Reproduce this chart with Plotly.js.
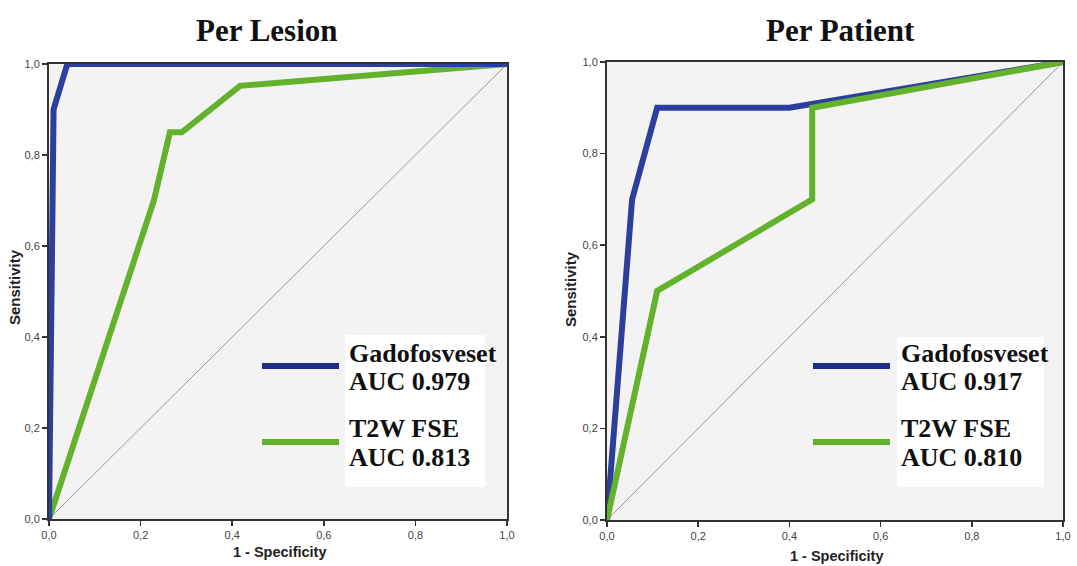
<!DOCTYPE html>
<html>
<head>
<meta charset="utf-8">
<script src="https://cdn.plot.ly/plotly-3.0.1.min.js"></script>
<style>html,body{margin:0;padding:0;background:#fff;}#chart{width:1077px;height:566px;}</style>
</head>
<body>
<div id="chart"></div>
<script>
// ---- data ----
const panelTitles = ["Per Lesion", "Per Patient"];
const seriesNames = ["Gadofosveset", "T2W FSE"];
const lesionAUC = ["AUC 0.979", "AUC 0.813"];
const patientAUC = ["AUC 0.917", "AUC 0.810"];
const lesionGadoFPR = [0, 0.01, 0.04, 1];
const lesionGadoTPR = [0, 0.90, 1.0, 1.0];
const lesionT2FPR = [0, 0.229, 0.264, 0.29, 0.417, 1];
const lesionT2TPR = [0, 0.70, 0.85, 0.85, 0.952, 1];
const patientGadoFPR = [0, 0.055, 0.11, 0.40, 1];
const patientGadoTPR = [0, 0.70, 0.90, 0.90, 1];
const patientT2FPR = [0, 0.11, 0.45, 0.45, 1];
const patientT2TPR = [0, 0.50, 0.70, 0.90, 1];
const refLine = [0, 1];
const tickVals = [0, 0.2, 0.4, 0.6, 0.8, 1.0];
const tickText = ["0,0", "0,2", "0,4", "0,6", "0,8", "1,0"];

// ---- style ----
const W = 1077, H = 566;
const BLUE = "#2d3f9c", GREEN = "#62b22b", LEGBLUE = "#1f2d8a";
const px = x => x / W, py = y => 1 - y / H;

function trace(x, y, color, width, xa, ya) {
  return {x: x, y: y, mode: "lines", type: "scatter", line: {color: color, width: width},
          xaxis: xa, yaxis: ya, hoverinfo: "skip", showlegend: false};
}

const data = [
  trace(refLine, refLine, "#9a9a9a", 1, "x", "y"),
  trace(lesionT2FPR, lesionT2TPR, GREEN, 6, "x", "y"),
  trace(lesionGadoFPR, lesionGadoTPR, BLUE, 6, "x", "y"),
  trace(refLine, refLine, "#9a9a9a", 1, "x2", "y2"),
  trace(patientGadoFPR, patientGadoTPR, BLUE, 6, "x2", "y2"),
  trace(patientT2FPR, patientT2TPR, GREEN, 6, "x2", "y2")
];

function axis(domain, anchor) {
  return {domain: domain, anchor: anchor, range: [0, 1], tickvals: tickVals, ticktext: tickText,
          ticks: "outside", ticklen: 5, tickwidth: 1.5, tickcolor: "#333",
          showline: true, linecolor: "#333", linewidth: 2, mirror: true,
          showgrid: false, zeroline: false, fixedrange: true,
          tickfont: {family: "Liberation Sans, Arial, sans-serif", size: 11, color: "#444"}};
}

const panels = [
  {x0: 49, x1: 507, y0: 64, y1: 519, aucs: lesionAUC, lineX: 262, textX: 347, box: [345, 335, 485, 487]},
  {x0: 607, x1: 1063, y0: 62, y1: 520, aucs: patientAUC, lineX: 813, textX: 899, box: [897, 337, 1044, 487]}
];

const layout = {
  width: W, height: H, margin: {l: 0, r: 0, t: 0, b: 0},
  paper_bgcolor: "#fff", plot_bgcolor: "#f3f3f3",
  showlegend: false,
  xaxis: axis([px(49), px(507)], "y"),
  yaxis: axis([1 - 519 / H, 1 - 64 / H], "x"),
  xaxis2: axis([px(607), px(1063)], "y2"),
  yaxis2: axis([1 - 520 / H, 1 - 62 / H], "x2"),
  shapes: [], annotations: []
};

const serif = "Liberation Serif, Times New Roman, serif";
const sans = "Liberation Sans, Arial, sans-serif";

panels.forEach((p, i) => {
  const cx = (p.x0 + p.x1) / 2;
  // title
  layout.annotations.push({text: "<b>" + panelTitles[i] + "</b>", xref: "paper", yref: "paper",
    x: px(i === 0 ? 267 : 840), y: py(30), xanchor: "center", yanchor: "middle", showarrow: false,
    font: {family: serif, size: 31, color: "#111"}});
  // axis titles
  layout.annotations.push({text: "<b>1 - Specificity</b>", xref: "paper", yref: "paper",
    x: px(cx + 1), y: py(i === 0 ? 552 : 556), xanchor: "center", yanchor: "middle", showarrow: false,
    font: {family: sans, size: 14.5, color: "#222"}});
  layout.annotations.push({text: "<b>Sensitivity</b>", xref: "paper", yref: "paper", textangle: -90,
    x: px(i === 0 ? 14 : 570), y: py(i === 0 ? 287 : 289), xanchor: "center", yanchor: "middle", showarrow: false,
    font: {family: sans, size: 15, color: "#222"}});
  // legend white box
  layout.shapes.push({type: "rect", xref: "paper", yref: "paper", layer: "above",
    x0: px(p.box[0]), x1: px(p.box[2]), y0: py(p.box[3]), y1: py(p.box[1]),
    fillcolor: "#ffffff", line: {width: 0}});
  // legend swatches
  [[LEGBLUE, 366], [GREEN, 442]].forEach(s => {
    layout.shapes.push({type: "line", xref: "paper", yref: "paper", layer: "above",
      x0: px(p.lineX), x1: px(p.lineX + 77), y0: py(s[1]), y1: py(s[1]),
      line: {color: s[0], width: 6}});
  });
  // legend text
  const lines = [[seriesNames[0], 353], [p.aucs[0], 381], [seriesNames[1], 428], [p.aucs[1], 457]];
  lines.forEach(l => {
    layout.annotations.push({text: "<b>" + l[0] + "</b>", xref: "paper", yref: "paper",
      x: px(p.textX), y: py(l[1]), xanchor: "left", yanchor: "middle", showarrow: false,
      font: {family: serif, size: 26, color: "#111"}});
  });
});

Plotly.newPlot("chart", data, layout, {displayModeBar: false, staticPlot: true});
</script>
</body>
</html>
